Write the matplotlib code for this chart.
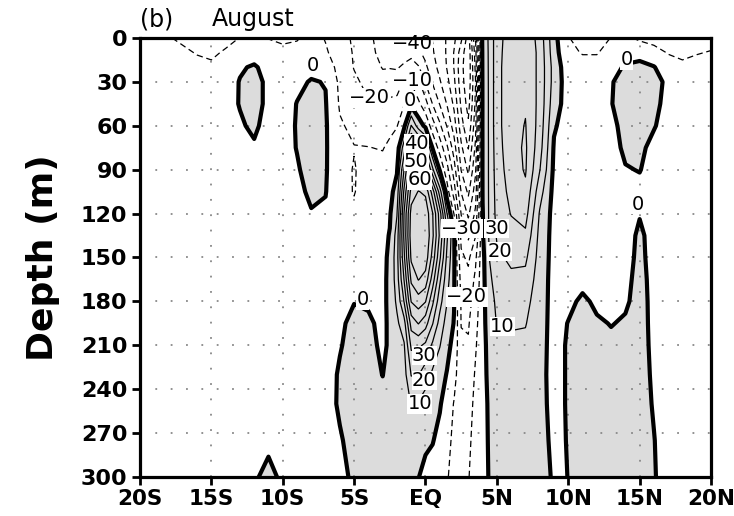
import numpy as np
import matplotlib
matplotlib.use("Agg")
import matplotlib.pyplot as plt

# ---- grid (longitude in degrees, negative = south; depth in m) ----
lons = [-20, -19, -18, -17, -16, -15, -14, -13, -12, -11, -10, -9, -8, -7, -6, -5, -4, -3,
        -2.5, -2, -1.5, -1, -0.5, 0, 0.5, 1, 1.5, 2, 2.5, 3, 3.5, 4, 4.5,
        5, 6, 7, 8, 9, 10, 11, 12, 13, 14, 15, 16, 17, 18, 19, 20]
depths = [0, 10, 20, 30, 45, 60, 75, 90, 105, 120, 135, 150, 165, 180, 195, 210, 230, 250, 275, 300]

# ---- field values: one depth profile per longitude ----
u_20S = [-8, -6, -4, -3, -3, -3, -3, -3, -3, -3, -3, -3, -3, -3, -3, -3, -3, -3, -3, -3]
u_19S = [-9, -6.5, -4, -3, -3, -3, -3, -3, -3, -3, -3, -3, -3, -3, -3, -3, -3, -3, -3, -3]
u_18S = [-9.5, -7, -4.5, -3.5, -3, -3, -3, -3, -3, -3, -3, -3, -3, -3, -3, -3, -3, -3, -3, -3]
u_17S = [-11.5, -8.5, -5, -3.5, -3, -3, -3, -3, -3, -3, -3, -3, -3, -3, -3, -3, -3, -3, -3, -3]
u_16S = [-13, -10.5, -7.5, -4, -3, -3, -3, -3, -3, -3, -3, -3, -3, -3, -3, -3, -3, -3, -3, -3]
u_15S = [-14, -11.5, -8.5, -5, -3.5, -3, -3, -3, -3, -3, -3, -3, -3, -3, -3, -3, -3, -3, -3, -3]
u_14S = [-12.5, -9, -6, -4, -3, -3, -3, -3, -3, -3, -3, -3, -3, -3, -3, -3, -3, -3, -3, -3]
u_13S = [-9.8, -6, -1, 0.4, 0.4, -1, -3, -3, -3, -3, -3, -3, -3, -3, -3, -3, -3, -3, -3, -3]
u_12S = [-8, -4, 1, 3, 3, 1.5, -1, -3, -3, -3, -3, -3, -3, -3, -3, -3, -3, -3, -3, -0.7]
u_11S = [-10.3, -6, -3, -2, -2, -3, -3, -3, -3, -3, -3, -3, -3, -3, -3, -3, -3, -3, -1.2, 1.5]
u_10S = [-11.5, -8, -5, -3.5, -3, -3, -3, -3, -3, -3, -3, -3, -3, -3, -3, -3, -3, -3, -3, -1]
u_9S = [-10.8, -7, -4, -1.5, 0.2, 0.5, 0.3, -0.8, -2, -3, -3, -3, -3, -3, -3, -3, -3, -3, -3, -3]
u_8S = [-6.8, -4.5, -2, 0.5, 3, 4, 4, 3, 1.5, -0.5, -3, -3, -3, -3, -3, -3, -3, -3, -3, -3]
u_7S = [-10.5, -9, -5, -0.3, 0.5, 1, 1, 0.8, 0.3, -1, -3, -3, -3, -3, -3, -3, -3, -3, -3, -3]
u_6S = [-15, -14, -13, -12, -11, -9, -8, -7, -6.5, -5, -4, -3.5, -3, -2.5, -1, -0.5, 0.8, 1, -0.7, -3]
u_5S = [-22, -21, -20.5, -18, -15, -12, -9.7, -10.5, -10.5, -8, -5, -4, -3.5, -0.2, 1.5, 2.5, 3, 3, 2.5, 2]
u_4S = [-28, -27, -25, -23, -19, -14, -9.8, -7, -5, -4, -3.5, -3, -3, -0.8, 1, 1.5, 2, 2.5, 2.5, 2.5]
u_3S = [-34, -33, -30.5, -27, -21, -15, -10.5, -7, -5, -3, -2.5, -2, -2, -2, -1.5, -1, -0.1, 1.5, 2.5, 3]
u_2p5S = [-36, -34, -30.5, -25, -18, -12.5, -8, -5, -3, -1, 0.5, 1.5, 2, 2, 1.2, 0.8, 2, 3, 3, 3]
u_2S = [-37, -35, -31, -25, -17, -10.5, -5, -1, 4, 9.5, 14, 16, 15, 12, 8, 6, 5, 4, 3.5, 3]
u_1p5S = [-38, -35, -28, -19, -10.5, -2, 15, 30.5, 42, 50.5, 52, 48, 40.5, 30.5, 16, 9, 6, 5, 4, 3]
u_1S = [-39, -34, -24, -10.5, -3, 20.5, 48, 60.5, 74, 84, 86, 82, 72, 60.5, 44, 32, 20.5, 10.5, 5, 2.5]
u_0p5S = [-42, -38, -29, -18, -8, 5, 40.5, 62, 80.5, 87, 89, 87, 80.5, 65, 50.5, 32, 20.5, 9, 3, 0.3]
u_EQ = [-45, -43, -38, -30.5, -16, -2, 25, 50.5, 78, 87, 89, 86, 76, 60.5, 44, 28, 15, 5, 2, -3]
u_0p5N = [-50.5, -49, -46, -41, -30.5, -15, -1, 22, 55, 70.5, 72, 66, 55, 42, 30.5, 18, 8, 3, 0.5, -4]
u_1N = [-55, -55, -53, -49, -40.5, -28, -14, -1, 25, 45, 48, 42, 32, 24, 16, 10.5, 4, 1, -3, -8]
u_1p5N = [-61, -61, -60.5, -57, -50.5, -40.5, -28, -16, -5, 10.5, 22, 18, 14, 10.5, 6, 3, -0.5, -5, -8, -9.5]
u_2N = [-68, -70.5, -70.5, -68, -62, -55, -45, -35, -25, -10.5, 1, 1.5, 1, 0.5, -0.5, -3, -7, -10.5, -11.5, -12]
u_2p5N = [-78, -85, -87, -86, -82, -76, -68, -60.5, -50.5, -40.5, -33, -28, -24, -21, -20.5, -18, -16, -14, -13, -12.5]
u_3N = [-95, -98, -98, -97, -94, -88, -80.5, -72, -62, -52, -42, -32, -27, -24, -21, -19, -16, -14, -12, -10.5]
u_3p5N = [-60.5, -65, -68, -70.5, -68, -64, -58, -52, -45, -38, -30.5, -22, -18, -15, -13, -11, -9, -7.5, -6.5, -6]
u_4N = [4, 3, 2.5, 2, 1.5, 1.5, 1, 1, 0.5, -0.5, -1, -3, -3, -3, -3, -3.5, -3.5, -4, -4, -4]
u_4p5N = [12, 12, 12, 12, 12, 12, 12, 12, 12, 12, 12, 10.5, 8, 6, 5, 4, 3, 2, 1.5, 1]
u_5N = [27, 27, 27, 27, 27, 27, 26, 25, 24, 23, 21, 18, 15, 12, 10.5, 8, 6, 5, 4, 4]
u_6N = [34, 35, 36, 36, 36, 36, 36, 35, 33, 30.5, 26, 22, 18, 14, 11, 8, 6, 5, 4, 4]
u_7N = [38, 39, 39, 39, 39, 40.5, 41.5, 41, 38, 34, 28, 22, 17, 13, 10.5, 8, 6, 5, 4, 4]
u_8N = [26, 27, 27, 27, 27, 26, 24, 20.5, 14, 9, 7, 6, 5, 4.5, 4, 3.5, 3, 3.5, 4, 5]
u_9N = [3, 4, 6, 6, 4, 1, -1, -2, -3, -3.5, -3.5, -3.5, -3.5, -3.5, -3.5, -3.5, -3.5, -3.5, -2.5, -1.5]
u_10N = [-9.5, -8, -6, -5, -4, -4, -4, -3.5, -3.5, -3.5, -3.5, -3.5, -3, -2, 0.3, 1, 1, 1, 0.5, 0.1]
u_11N = [-14, -10.5, -7, -5, -4, -3.5, -3.5, -3.5, -3.5, -3.5, -3.5, -3, -2.5, 1.5, 2.5, 3, 3, 3, 3, 3]
u_12N = [-13, -10.5, -7, -5, -4, -3.5, -3.5, -3.5, -3.5, -3.5, -3.5, -3.5, -3, -1.5, 1, 2, 2.5, 3, 3, 3]
u_13N = [-9.8, -7, -2.5, -0.5, -0.3, -2, -3, -3, -3, -3, -3, -3, -3, -2, -0.3, 1.5, 2.5, 3, 3, 3]
u_14N = [-8, -3, 0.8, 2.5, 3, 2.5, 1.5, -0.5, -3, -3.5, -3.5, -3, -2, -1, 0.8, 2, 2.5, 3, 3, 3]
u_15N = [-12, -2, 1.5, 3, 3.5, 3, 1.5, 0.3, -2, -0.5, 1.5, 2, 2.5, 2.5, 2.5, 2.5, 2.5, 2.5, 2.5, 2.5]
u_16N = [-13, -7, 0.5, 2, 2, 0.5, -2, -3, -3, -3, -3, -3, -2.5, -2, -1.8, -1.5, -1, -0.5, 0.2, 0.5]
u_17N = [-14, -10.5, -6, -1.3, -2.5, -3, -3, -3, -3, -3, -3, -3, -3, -3, -3, -3, -3, -3, -3, -3]
u_18N = [-15, -12, -8, -5, -4, -3.5, -3, -3, -3, -3, -3, -3, -3, -3, -3, -3, -3, -3, -3, -3]
u_19N = [-14, -10.5, -7, -5, -4, -3, -3, -3, -3, -3, -3, -3, -3, -3, -3, -3, -3, -3, -3, -3]
u_20N = [-13, -9.5, -6, -4.5, -3.5, -3, -3, -3, -3, -3, -3, -3, -3, -3, -3, -3, -3, -3, -3, -3]

profiles = [u_20S, u_19S, u_18S, u_17S, u_16S, u_15S, u_14S, u_13S, u_12S, u_11S, u_10S,
            u_9S, u_8S, u_7S, u_6S, u_5S, u_4S, u_3S, u_2p5S, u_2S, u_1p5S, u_1S, u_0p5S,
            u_EQ, u_0p5N, u_1N, u_1p5N, u_2N, u_2p5N, u_3N, u_3p5N, u_4N, u_4p5N,
            u_5N, u_6N, u_7N, u_8N, u_9N, u_10N, u_11N, u_12N, u_13N, u_14N, u_15N,
            u_16N, u_17N, u_18N, u_19N, u_20N]

xticks = [-20, -15, -10, -5, 0, 5, 10, 15, 20]
xticklabels = ["20S", "15S", "10S", "5S", "EQ", "5N", "10N", "15N", "20N"]
yticks = [0, 30, 60, 90, 120, 150, 180, 210, 240, 270, 300]

neg_levels = [-90, -80, -70, -60, -50, -40, -30, -20, -10]
pos_levels = [10, 20, 30, 40, 50, 60, 70, 80]

# contour labels: (level, lon, depth) where each label sits in the reference
label_specs = [
    (0, -7.9, 19), (0, 14.1, 15), (0, 14.87, 114), (0, -4.4, 179),
    (-40, -0.9, 4), (-20, -3.9, 41), (-10, -0.9, 29), (0, -1.1, 43),
    (40, -0.65, 72), (50, -0.65, 84.5), (60, -0.4, 97),
    (-30, 2.55, 130), (30, 5.0, 130), (20, 5.2, 146), (-20, 2.9, 177), (10, 5.4, 197),
    (30, -0.1, 217), (20, -0.1, 234), (10, -0.4, 250),
]

# ---- figure ----
fig = plt.figure(figsize=(7.34, 5.16), dpi=100)
ax = fig.add_axes([0.1907, 0.0756, 0.778, 0.8508])
ax.set_xlim(-20, 20)
ax.set_ylim(300, 0)

X, Y = np.meshgrid(np.array(lons, float), np.array(depths, float))
Z = np.column_stack([np.array(p, float) for p in profiles])

ax.contourf(X, Y, Z, levels=[0, 1000], colors=["#dcdcdc"], zorder=0.5)
cs_neg = ax.contour(X, Y, Z, levels=neg_levels, colors="k", linewidths=0.9,
                    linestyles=[(0, (5, 3))], zorder=2)
cs_pos = ax.contour(X, Y, Z, levels=pos_levels, colors="k", linewidths=0.9,
                    linestyles="solid", zorder=2)
cs_zero = ax.contour(X, Y, Z, levels=[0], colors="k", linewidths=3.0,
                     linestyles="solid", zorder=2.2)


def fmt(v):
    s = "%d" % round(v)
    return s.replace("-", "\u2212")


for lev, lx, ly in label_specs:
    ax.text(lx, ly, fmt(lev), fontsize=14, ha="center", va="center", zorder=5,
            bbox=dict(facecolor="white", edgecolor="none", pad=0.1))

ax.set_xticks(xticks)
ax.set_xticklabels(xticklabels, fontsize=15.5, fontweight="bold")
ax.set_yticks(yticks)
ax.set_yticklabels([str(v) for v in yticks], fontsize=16, fontweight="bold")
ax.tick_params(direction="out", length=6, width=2, pad=3)
for sp in ax.spines.values():
    sp.set_linewidth(2.3)
    sp.set_zorder(6)

ax.set_axisbelow("line")
ax.grid(True, color="#888888", linestyle=(0, (1, 7.5)), linewidth=1.3)

fig.text(0.058, 0.5, "Depth (m)", rotation=90, ha="center", va="center",
         fontsize=26, fontweight="bold")
fig.text(0.1907, 0.963, "(b)", ha="left", va="center", fontsize=17)
fig.text(0.289, 0.963, "August", ha="left", va="center", fontsize=17)

fig.savefig("out.png", dpi=100)
